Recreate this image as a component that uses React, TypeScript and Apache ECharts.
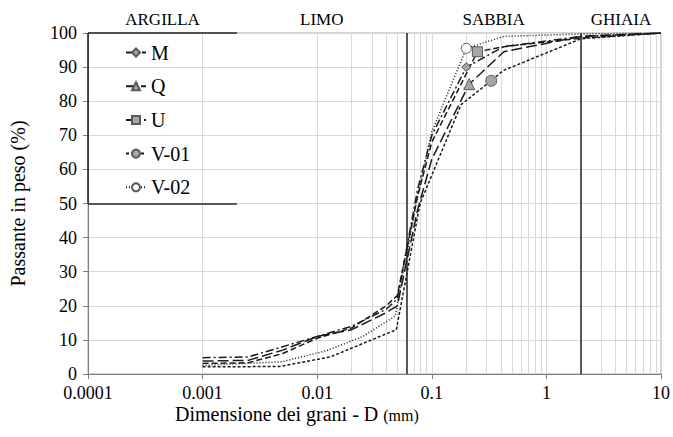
import React, { useEffect, useRef } from "react";
import * as echarts from "echarts";

// ---- data ----
const seriesNames = ["M", "Q", "U", "V-01", "V-02"];

const mD = [0.001, 0.0025, 0.005, 0.01, 0.02, 0.04, 0.05, 0.075, 0.1, 0.2, 0.425, 2, 10];
const mP = [4.8, 5, 8, 11, 14, 19, 22, 54, 70, 90, 96, 99, 100];

const qD = [0.001, 0.0025, 0.005, 0.01, 0.02, 0.04, 0.05, 0.075, 0.1, 0.212, 0.425, 2, 10];
const qP = [3.8, 4, 7, 11, 13, 18, 20, 48, 63, 85, 94.5, 99, 100];

const uD = [0.001, 0.0025, 0.005, 0.01, 0.02, 0.04, 0.05, 0.075, 0.1, 0.25, 0.425, 2, 10];
const uP = [3.1, 3.3, 6, 10.5, 13.5, 20, 23, 52, 68, 94.5, 96, 98.5, 100];

const v1D = [0.001, 0.0047, 0.013, 0.049, 0.079, 0.18, 0.33, 0.42, 2, 10];
const v1P = [2.1, 2.2, 5, 13, 50, 79, 86, 89, 98.3, 100];

const v2D = [0.001, 0.005, 0.0125, 0.025, 0.048, 0.075, 0.1, 0.2, 0.425, 2, 10];
const v2P = [2.5, 3.6, 7, 11, 17, 52, 71, 95.5, 99, 99.7, 100];

const markerIndex = [9, 9, 9, 6, 7];

const xTickLabels = ["0.0001", "0.001", "0.01", "0.1", "1", "10"];
const decades = [0.0001, 0.001, 0.01, 0.1, 1];
const minorMultipliers = [2, 3, 4, 5, 6, 7, 8, 9];

const zoneNames = ["ARGILLA", "LIMO", "SABBIA", "GHIAIA"];
const zoneBounds = [0.0001, 0.002, 0.06, 2, 10];

const xTitle = "Dimensione dei grani - D ";
const xTitleUnit = "(mm)";
const yTitle = "Passante in peso (%)";

// ---- styles ----
const FONT = "Liberation Serif";
const dashTypes: any[] = [
  [8, 3, 2, 3],
  [11, 4],
  [6, 3],
  [3, 2],
  [1, 2],
];
const symbols = ["diamond", "triangle", "rect", "circle", "circle"];
const symbolSizes = [9, 11, 10, 11, 10];
const symbolFills = ["#a6a6a6", "#a6a6a6", "#a6a6a6", "#a6a6a6", "#ffffff"];

export default function App() {
  const ref = useRef<HTMLDivElement>(null);

  useEffect(() => {
    if (!ref.current) return;
    const chart = echarts.init(ref.current, undefined, { renderer: "svg" });

    const allD = [mD, qD, uD, v1D, v2D];
    const allP = [mP, qP, uP, v1P, v2P];

    const curveSeries = seriesNames.map((name, si) => ({
      name,
      type: "line",
      z: 5,
      symbol: symbols[si],
      symbolSize: symbolSizes[si],
      showSymbol: true,
      itemStyle: { color: symbolFills[si], borderColor: "#595959", borderWidth: 1 },
      lineStyle: { color: "#1a1a1a", width: 1.5, type: dashTypes[si] },
      data: allD[si].map((d, i) =>
        i === markerIndex[si]
          ? { value: [d, allP[si][i]] }
          : { value: [d, allP[si][i]], symbol: "none" }
      ),
    }));

    const minorLines: any[] = [];
    decades.forEach((d) =>
      minorMultipliers.forEach((k) => minorLines.push({ xAxis: +(d * k).toPrecision(3) }))
    );

    const zoneAreas = zoneNames.map((n, i) => [
      { name: n, xAxis: zoneBounds[i], yAxis: 0 },
      { xAxis: zoneBounds[i + 1], yAxis: 100 },
    ]);

    const option: any = {
      animation: false,
      grid: {
        left: 88,
        right: 12,
        top: 33,
        bottom: 63,
        show: true,
        borderColor: "#a6a6a6",
        borderWidth: 1,
      },
      legend: {
        data: seriesNames,
        orient: "vertical",
        left: 120,
        top: 37,
        itemGap: 12.7,
        itemWidth: 20,
        itemHeight: 10,
        textStyle: { fontFamily: FONT, fontSize: 20, color: "#000", lineHeight: 21 },
      },
      graphic: [
        {
          type: "text",
          left: 175,
          top: 404,
          style: {
            text: "{a|" + xTitle + "}{b|" + xTitleUnit + "}",
            rich: {
              a: { fontFamily: FONT, fontSize: 20, fill: "#000" },
              b: { fontFamily: FONT, fontSize: 16, fill: "#000", padding: [3, 0, 0, 0] },
            },
          },
        },
      ],
      xAxis: {
        type: "log",
        logBase: 10,
        min: 0.0001,
        max: 10,
        axisLine: { show: true, lineStyle: { color: "#7f7f7f", width: 1 } },
        axisTick: { show: true, length: 5, lineStyle: { color: "#7f7f7f" } },
        axisLabel: {
          fontFamily: FONT,
          fontSize: 18,
          lineHeight: 16,
          color: "#000",
          margin: 11,
          formatter: (v: number) => {
            const i = Math.round(Math.log10(v)) + 4;
            return xTickLabels[i] ?? "";
          },
        },
        splitLine: { show: true, lineStyle: { color: "#d9d9d9", width: 1 } },
      },
      yAxis: {
        type: "value",
        min: 0,
        max: 100,
        interval: 10,
        axisLine: { show: true, lineStyle: { color: "#7f7f7f", width: 1 } },
        axisTick: { show: true, length: 5, lineStyle: { color: "#7f7f7f" } },
        axisLabel: { fontFamily: FONT, fontSize: 18, lineHeight: 15, color: "#000", margin: 11 },
        splitLine: { show: true, lineStyle: { color: "#d9d9d9", width: 1 } },
        name: yTitle,
        nameLocation: "middle",
        nameGap: 60,
        nameTextStyle: { fontFamily: FONT, fontSize: 20, color: "#000" },
      },
      series: [
        {
          type: "line",
          name: "_grid",
          data: [],
          z: 1,
          silent: true,
          markLine: {
            silent: true,
            symbol: "none",
            label: { show: false },
            lineStyle: { color: "#d9d9d9", width: 1, type: "solid" },
            data: minorLines,
          },
          markArea: {
            silent: true,
            itemStyle: { color: "rgba(0,0,0,0)" },
            label: {
              show: true,
              position: "top",
              distance: 5,
              fontFamily: FONT,
              fontSize: 17,
              color: "#000",
            },
            data: zoneAreas,
          },
        },
        {
          type: "line",
          name: "_zones",
          data: [],
          z: 3,
          silent: true,
          markLine: {
            silent: true,
            symbol: "none",
            label: { show: false },
            lineStyle: { color: "#262626", width: 1.5, type: "solid" },
            data: [
              { xAxis: zoneBounds[1] },
              { xAxis: zoneBounds[2] },
              { xAxis: zoneBounds[3] },
              [
                { coord: [zoneBounds[0], 50] },
                { coord: [zoneBounds[1], 50] },
              ],
              [
                { coord: [zoneBounds[0], 100] },
                { coord: [zoneBounds[1], 100] },
              ],
              [
                { coord: [zoneBounds[0], 50] },
                { coord: [zoneBounds[0], 100] },
              ],
            ],
          },
        },
        ...curveSeries,
      ],
    };

    chart.setOption(option);
    return () => chart.dispose();
  }, []);

  return (
    <div
      ref={ref}
      style={{ position: "absolute", left: 0, top: 0, width: 673, height: 437 }}
    />
  );
}
